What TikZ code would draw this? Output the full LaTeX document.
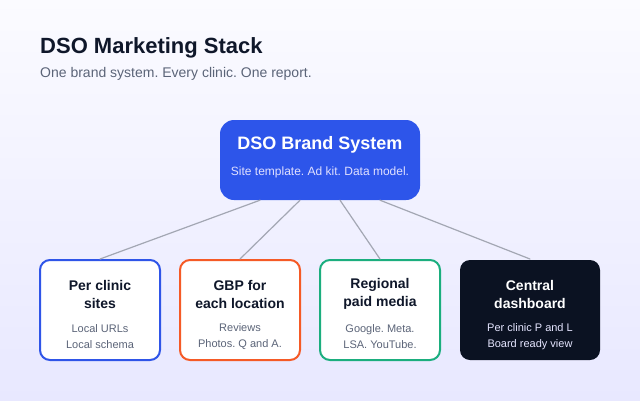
\documentclass[tikz,border=0pt]{standalone}
\usepackage{fontspec}
\setmainfont{Liberation Sans}
\frenchspacing
\usetikzlibrary{calc}
\definecolor{ink}{HTML}{0F172A}
\definecolor{muted}{HTML}{5B6478}
\definecolor{brandblue}{HTML}{2D55EA}
\definecolor{siteblue}{HTML}{2F55E8}
\definecolor{gbporange}{HTML}{F55A26}
\definecolor{mediagreen}{HTML}{1BAE7E}
\definecolor{dashnavy}{HTML}{0B1222}
\definecolor{linkgray}{HTML}{A3A7B3}
\tikzset{
  card/.style={draw=#1, line width=2pt, fill=white, rounded corners=10pt,
    minimum width=120pt, minimum height=100pt, inner sep=0pt},
  cardhead/.style={text=ink, align=center, font=\bfseries\fontsize{14}{18}\selectfont},
  cardnote/.style={text=muted, align=center, font=\fontsize{11}{16}\selectfont},
  link/.style={draw=linkgray, line width=1.2pt}
}
\begin{document}
\begin{tikzpicture}[x=1pt, y=-1pt, line join=round, line cap=round]
	\shade[top color=white!60!blue!4, bottom color=blue!9] (0,0) rectangle (640,400);
	\useasboundingbox (0,0) rectangle (640,400);
	% heading
	\node[anchor=base west, text=ink, font=\bfseries\fontsize{22}{24}\selectfont, inner sep=0pt] (title) at (40,53) {DSO Marketing Stack};
	\node[anchor=base west, text=muted, font=\fontsize{14}{16}\selectfont, inner sep=0pt] (subtitle) at (40,77) {One brand system. Every clinic. One report.};
	% brand system box
	\node[fill=brandblue, rounded corners=14pt, minimum width=200pt, minimum height=80pt, inner sep=0pt] (brand) at (320,160) {};
	\node[text=white, font=\bfseries\fontsize{18}{20}\selectfont] (brandhead) at (320,145) {DSO Brand System};
	\node[text=white!88!blue, font=\fontsize{12}{14}\selectfont] (brandnote) at (320,172) {Site template. Ad kit. Data model.};
	% clinic level boxes
	\node[card=siteblue] (sites) at (100,310) {};
	\node[card=gbporange] (gbp) at (240,310) {};
	\node[card=mediagreen] (media) at (380,310) {};
	\node[card=dashnavy, fill=dashnavy, draw=none, minimum width=140pt] (dash) at (530,310) {};
	\node[cardhead] at (100,294) {Per clinic\\sites};
	\node[cardnote] at (100,337) {Local URLs\\Local schema};
	\node[cardhead] at (240,294) {GBP for\\each location};
	\node[cardnote] at (240,337) {Reviews\\Photos. Q and A.};
	\node[cardhead] at (380,294) {Regional\\paid media};
	\node[cardnote] at (380,337) {Google. Meta.\\LSA. YouTube.};
	\node[cardhead, text=white] at (530,294) {Central\\dashboard};
	\node[cardnote, text=white!90!blue] at (530,337) {Per clinic P and L\\Board ready view};
	% links
	\draw[link] ($(brand.south)+(-60,0)$) -- (sites.north);
	\draw[link] ($(brand.south)+(-20,0)$) -- (gbp.north);
	\draw[link] ($(brand.south)+(20,0)$) -- (media.north);
	\draw[link] ($(brand.south)+(60,0)$) -- (dash.north);
\end{tikzpicture}
\end{document}
